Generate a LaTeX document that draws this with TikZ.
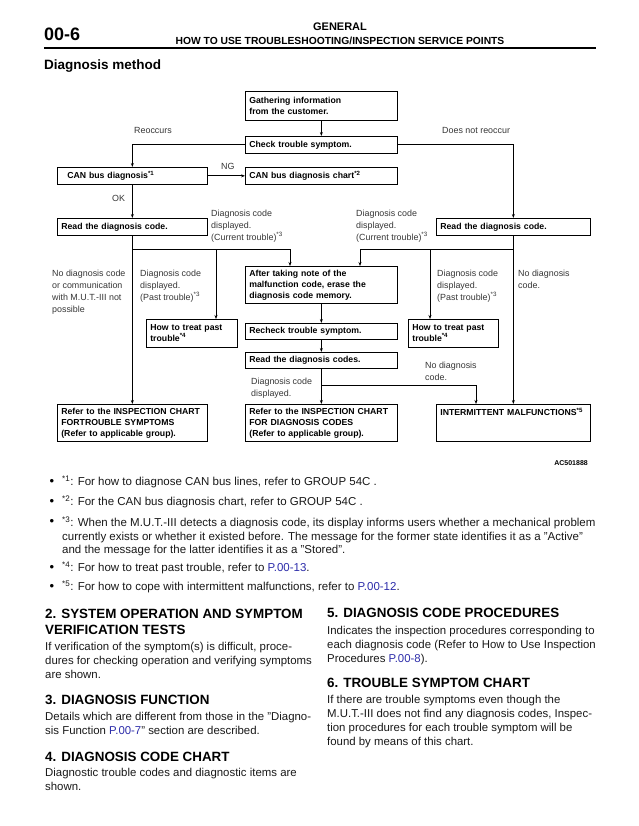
\documentclass[tikz,border=0pt]{standalone}
\usepackage{fontspec}
\setmainfont{Liberation Sans}
\usetikzlibrary{arrows.meta,calc}
\definecolor{lblc}{RGB}{55,55,55}
\definecolor{bodyc}{RGB}{25,25,25}
\definecolor{linkc}{RGB}{45,45,170}
\newcommand{\lnk}[1]{\textcolor{linkc}{#1}}
\newcommand{\fn}[1]{\textsuperscript{*#1}}
\begin{document}
\begin{tikzpicture}[x=1pt,y=-1pt,
  box/.style={draw, line width=0.7pt, anchor=north west, inner xsep=4pt, inner ysep=0pt,
    align=left, font=\fontsize{8.7}{11}\selectfont\bfseries},
  lbl/.style={anchor=north west, inner sep=0pt, align=left, text=lblc,
    font=\fontsize{8.9}{12}\selectfont},
  conn/.style={line width=0.7pt, -{Stealth[length=4pt,width=3pt]}},
  head/.style={anchor=west, inner sep=0pt, font=\fontsize{13.4}{16}\selectfont\bfseries},
  body/.style={anchor=north west, inner sep=0pt, align=left, text=bodyc,
    font=\fontsize{11.4}{13.7}\selectfont},
  note/.style={anchor=north west, inner sep=0pt, align=left, text=bodyc,
    font=\fontsize{11.5}{13.5}\selectfont},
  bul/.style={anchor=center, inner sep=0pt, font=\fontsize{13}{14}\selectfont},
]
\useasboundingbox[fill=white] (0,0) rectangle (638,826);

% ---------- header ----------
\node[anchor=west, inner sep=0pt, font=\fontsize{18}{20}\selectfont\bfseries] (pg) at (44,34) {00-6};
\node[inner sep=0pt, font=\fontsize{11}{12}\selectfont\bfseries] (gen) at (340,27) {GENERAL};
\node[inner sep=0pt, font=\fontsize{10.3}{11}\selectfont\bfseries] (sub) at (340,41) {HOW TO USE TROUBLESHOOTING/INSPECTION SERVICE POINTS};
\coordinate (r1) at (44,48);
\coordinate (r2) at (596,48);
\draw[line width=2pt] (r1) -- (r2);
\node[anchor=west, inner sep=0pt, font=\fontsize{13.5}{16}\selectfont\bfseries] (dm) at (44,66) {Diagnosis method};

% ---------- flowchart boxes ----------
\node[box, text width=144pt, minimum height=29pt] (gath) at (245,91) {Gathering information\\from the customer.};
\node[box, text width=144pt, minimum height=17pt] (check) at (245,136) {Check trouble symptom.};
\node[box, inner xsep=10pt, text width=130pt, minimum height=17pt] (can) at (57,167) {CAN bus diagnosis\fn{1}};
\node[box, text width=144pt, minimum height=17pt] (canc) at (245,167) {CAN bus diagnosis chart\fn{2}};
\node[box, text width=142pt, minimum height=17pt] (readl) at (57,218) {Read the diagnosis code.};
\node[box, text width=146pt, minimum height=17pt] (readr) at (436,218) {Read the diagnosis code.};
\node[box, text width=144pt, minimum height=37pt] (after) at (245,266) {After taking note of the\\malfunction code, erase the\\diagnosis code memory.};
\node[box, text width=83pt, minimum height=28pt] (howl) at (146,319) {How to treat past\\trouble\fn{4}};
\node[box, text width=82pt, minimum height=28pt] (howr) at (408,319) {How to treat past\\trouble\fn{4}};
\node[box, text width=144pt, minimum height=16pt] (rech) at (245,323) {Recheck trouble symptom.};
\node[box, text width=144pt, minimum height=16pt] (readc) at (245,352) {Read the diagnosis codes.};
\node[box, text width=142pt, minimum height=37pt] (refl) at (57,404) {Refer to the INSPECTION CHART\\FORTROUBLE SYMPTOMS\\(Refer to applicable group).};
\node[box, text width=144pt, minimum height=37pt] (refm) at (245,404) {Refer to the INSPECTION CHART\\FOR DIAGNOSIS CODES\\(Refer to applicable group).};
\node[box, text width=146pt, minimum height=37pt] (inter) at (436,404) {INTERMITTENT MALFUNCTIONS\fn{5}\\\mbox{}\\\mbox{}};

% ---------- labels ----------
\node[lbl] (reoc) at (134,127) {Reoccurs};
\node[lbl] (dnr) at (442,127) {Does not reoccur};
\node[lbl] (ng) at (221,163) {NG};
\node[lbl] (ok) at (112,195) {OK};
\node[lbl] (curl) at (211,210) {Diagnosis code\\displayed.\\(Current trouble)\fn{3}};
\node[lbl] (curr) at (356,210) {Diagnosis code\\displayed.\\(Current trouble)\fn{3}};
\node[lbl] (nodl) at (52,270) {No diagnosis code\\or communication\\with M.U.T.-III not\\possible};
\node[lbl] (pastl) at (140,270) {Diagnosis code\\displayed.\\(Past trouble)\fn{3}};
\node[lbl] (pastr) at (437,270) {Diagnosis code\\displayed.\\(Past trouble)\fn{3}};
\node[lbl] (nodr) at (518,270) {No diagnosis\\code.};
\node[lbl] (nodm) at (425,362) {No diagnosis\\code.};
\node[lbl] (dispm) at (251,378) {Diagnosis code\\displayed.};
\node[anchor=east, inner sep=0pt, font=\fontsize{7}{8}\selectfont\bfseries] (ac) at (588,463) {AC501888};

% ---------- connectors ----------
\draw[conn] (gath) -- (check);
\draw[conn] (check.west) -| (can.north);
\draw[conn] (check.east) -| (readr.north);
\draw[conn] (can.east) -- (canc.west);
\draw[conn] (can.south) -- (readl.north);
\draw[conn] (readl.south) -- (refl.north);
\coordinate (jl) at (132,249);
\coordinate (afl) at ([xshift=45pt]after.north west);
\coordinate (hl) at ([xshift=70pt]howl.north west);
\draw[conn] (jl) -| (afl);
\draw[conn] (jl -| hl) -- (hl);
\coordinate (jr) at (513,249);
\coordinate (afr) at ([xshift=115pt]after.north west);
\coordinate (hr) at ([xshift=22pt]howr.north west);
\draw[conn] (jr) -| (afr);
\draw[conn] (jr -| hr) -- (hr);
\draw[conn] (readr.south) -- (inter.north);
\draw[conn] (after) -- (rech);
\draw[conn] (rech) -- (readc);
\draw[conn] (readc) -- (refm);
\coordinate (jm) at (321,385);
\coordinate (inl) at ([xshift=40pt]inter.north west);
\draw[conn] (jm) -| (inl);

% ---------- footnotes ----------
\node[bul] (b1) at (52,482) {•};
\node[note, anchor=west] (n1) at (62,482) {\fn{1}: For how to diagnose CAN bus lines, refer to GROUP 54C .};
\node[bul] (b2) at (52,502) {•};
\node[note, anchor=west] (n2) at (62,502) {\fn{2}: For the CAN bus diagnosis chart, refer to GROUP 54C .};
\node[bul] (b3) at (52,522) {•};
\node[note, anchor=north west] (n3) at (62,516.5) {\fn{3}: When the M.U.T.-III detects a diagnosis code, its display informs users whether a mechanical problem\\currently exists or whether it existed before. The message for the former state identifies it as a "Active"\\and the message for the latter identifies it as a "Stored".};
\node[bul] (b4) at (52,568) {•};
\node[note, anchor=west] (n4) at (62,568) {\fn{4}: For how to treat past trouble, refer to \lnk{P.00-13}.};
\node[bul] (b5) at (52,587) {•};
\node[note, anchor=west] (n5) at (62,587) {\fn{5}: For how to cope with intermittent malfunctions, refer to \lnk{P.00-12}.};

% ---------- sections left ----------
\node[head] (h2a) at (45,614) {2. SYSTEM OPERATION AND SYMPTOM};
\node[head] (h2b) at (45,630) {VERIFICATION TESTS};
\node[body] (t2) at (45,642.5) {If verification of the symptom(s) is difficult, proce-\\dures for checking operation and verifying symptoms\\are shown.};
\node[head] (h3) at (45,700) {3. DIAGNOSIS FUNCTION};
\node[body] (t3) at (45,712.5) {Details which are different from those in the "Diagno-\\sis Function \lnk{P.00-7}" section are described.};
\node[head] (h4) at (45,757) {4. DIAGNOSIS CODE CHART};
\node[body] (t4) at (45,768.5) {Diagnostic trouble codes and diagnostic items are\\shown.};

% ---------- sections right ----------
\node[head] (h5) at (327,613) {5. DIAGNOSIS CODE PROCEDURES};
\node[body] (t5) at (327,626.5) {Indicates the inspection procedures corresponding to\\each diagnosis code (Refer to How to Use Inspection\\Procedures \lnk{P.00-8}).};
\node[head] (h6) at (327,683) {6. TROUBLE SYMPTOM CHART};
\node[body] (t6) at (327,695.5) {If there are trouble symptoms even though the\\M.U.T.-III does not find any diagnosis codes, Inspec-\\tion procedures for each trouble symptom will be\\found by means of this chart.};
\end{tikzpicture}
\end{document}
